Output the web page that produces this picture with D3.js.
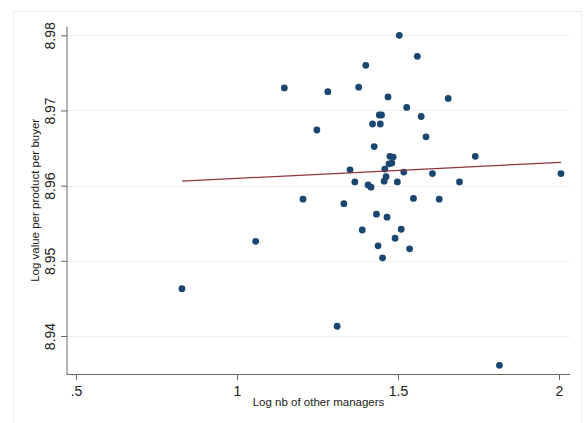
<!DOCTYPE html>
<html><head><meta charset="utf-8">
<script src="https://cdn.jsdelivr.net/npm/d3@7"></script>
<style>
html,body{margin:0;padding:0;background:#fff;}
svg{display:block;font-family:Arial,"Liberation Sans",sans-serif;}
</style></head>
<body>
<svg id="chart" width="585" height="423"></svg>
<script>
const xValues = [0.829,1.058,1.147,1.205,1.248,1.282,1.311,1.332,1.351,1.366,
  1.378,1.389,1.400,1.407,1.416,1.421,1.426,1.433,1.438,1.442,
  1.449,1.445,1.452,1.457,1.463,1.459,1.466,1.469,1.472,1.481,
  1.475,1.485,1.491,1.498,1.504,1.510,1.518,1.527,1.536,1.548,
  1.560,1.572,1.587,1.607,1.628,1.656,1.691,1.740,1.815,2.006];
const yValues = [8.9463,8.9526,8.9730,8.9582,8.9674,8.9725,8.9413,8.9576,8.9621,8.9605,
  8.9731,8.9541,8.9760,8.9601,8.9598,8.9682,8.9652,8.9562,8.9520,8.9694,
  8.9694,8.9682,8.9504,8.9606,8.9612,8.9622,8.9558,8.9718,8.9629,8.9630,
  8.9639,8.9638,8.9530,8.9605,8.9800,8.9542,8.9618,8.9704,8.9516,8.9583,
  8.9772,8.9692,8.9665,8.9616,8.9582,8.9716,8.9605,8.9639,8.9361,8.9616];
const fitX = [0.829, 2.006];
const fitY = [8.9606, 8.9631];
const xTicks = [0.5, 1, 1.5, 2];
const xTickLabels = [".5", "1", "1.5", "2"];
const yTicks = [8.94, 8.95, 8.96, 8.97, 8.98];
const yTickLabels = ["8.94", "8.95", "8.96", "8.97", "8.98"];
const xTitle = "Log nb of other managers";
const yTitle = "Log value per product per buyer";

const svg = d3.select("#chart");
const L = 67, R = 570, T = 26.7, B = 374;

const x = d3.scaleLinear().domain([0.5, 2]).range([76, 559]);
const y = d3.scaleLinear().domain([8.94, 8.98]).range([336, 35.3]);

// outer frame
svg.append("rect").attr("x", 13.5).attr("y", 11.5).attr("width", 568).attr("height", 420)
  .attr("fill", "#fff").attr("stroke", "#e6eef0").attr("stroke-width", 1);

// gridlines
svg.append("g").selectAll("line").data(yTicks).join("line")
  .attr("x1", L).attr("x2", R)
  .attr("y1", d => Math.round(y(d)) + 0.5).attr("y2", d => Math.round(y(d)) + 0.5)
  .attr("stroke", "#eaf1f2").attr("stroke-width", 1.2);

// y axis
const yAxis = d3.axisLeft(y).tickValues(yTicks).tickFormat((d, i) => yTickLabels[i])
  .tickSizeOuter(0).tickSizeInner(6).tickPadding(6);
const gy = svg.append("g").attr("transform", `translate(${L},0)`).call(yAxis);
gy.select(".domain").remove();
gy.append("line").attr("x1", 0).attr("x2", 0).attr("y1", T).attr("y2", B + 0.5).attr("stroke", "#666").attr("stroke-width", 1);
gy.selectAll(".tick line").attr("stroke", "#666");
gy.selectAll(".tick text")
  .attr("x", 0).attr("dy", null)
  .attr("text-anchor", "middle")
  .attr("transform", "translate(-12,0) rotate(-90)")
  .attr("font-size", 14).attr("fill", "#222")
  .attr("font-family", 'Arial,"Liberation Sans",sans-serif');

// x axis
const xAxis = d3.axisBottom(x).tickValues(xTicks).tickFormat((d, i) => xTickLabels[i])
  .tickSizeOuter(0).tickSizeInner(6).tickPadding(6);
const gx = svg.append("g").attr("transform", `translate(0,${B})`).call(xAxis);
gx.select(".domain").remove();
gx.append("line").attr("x1", L).attr("x2", R).attr("y1", 0.5).attr("y2", 0.5).attr("stroke", "#666").attr("stroke-width", 1);
gx.selectAll(".tick line").attr("stroke", "#666");
gx.selectAll(".tick text").attr("font-size", 14).attr("fill", "#222")
  .attr("font-family", 'Arial,"Liberation Sans",sans-serif');

// titles
svg.append("text").attr("x", (L + R) / 2).attr("y", 406).attr("text-anchor", "middle")
  .attr("font-size", 11.5).attr("fill", "#222").text(xTitle);
svg.append("text").attr("transform", `translate(39,${(T + B) / 2}) rotate(-90)`).attr("text-anchor", "middle")
  .attr("font-size", 11.5).attr("fill", "#222").text(yTitle);

// points
const pts = xValues.map((d, i) => ({x: d, y: yValues[i]}));
svg.append("g").selectAll("circle").data(pts).join("circle")
  .attr("cx", d => x(d.x)).attr("cy", d => y(d.y)).attr("r", 3.4)
  .attr("fill", "#1a476f");

// fit line
const line = d3.line().x(d => x(d[0])).y(d => y(d[1]));
svg.append("path").datum(fitX.map((d, i) => [d, fitY[i]]))
  .attr("d", line).attr("fill", "none").attr("stroke", "#90353b").attr("stroke-width", 1.2);
</script>
</body></html>
